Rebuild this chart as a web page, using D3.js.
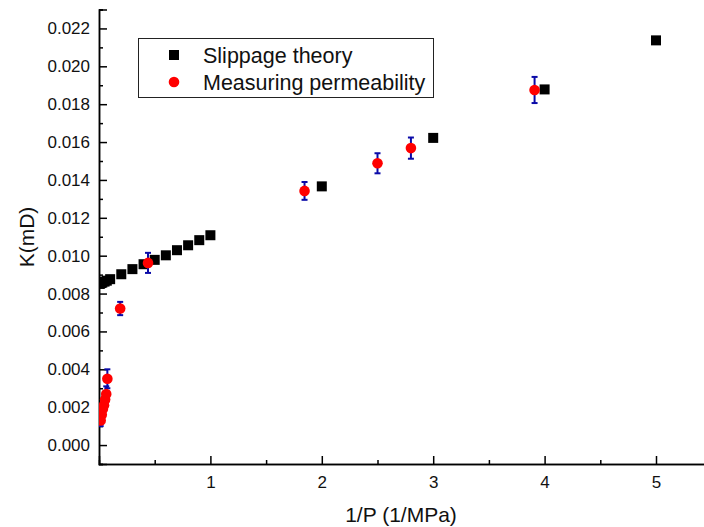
<!DOCTYPE html>
<html><head><meta charset="utf-8">
<script src="https://cdn.jsdelivr.net/npm/d3@7"></script>
<style>body{margin:0;background:#fff}svg{display:block}text{font-family:Arial,"Liberation Sans",sans-serif}</style>
</head><body><svg id="c" width="704" height="527"></svg>
<script>
// Slippage theory (black squares)
const slipX = [0.005,0.01,0.02,0.03,0.05,0.07,0.1,0.2,0.3,0.4,0.5,0.6,0.7,0.8,0.9,1,2,3,4,5];
const slipK = [0.00851,0.00853,0.00856,0.00858,0.00863,0.00868,0.00876,0.00902,0.00929,0.00955,0.00978,0.01002,0.01029,0.01055,0.01082,0.01108,0.01366,0.01622,0.01878,0.02137];
// Measuring permeability (red circles, blue error bars)
const measX = [0.015,0.025,0.035,0.045,0.055,0.065,0.075,0.19,0.44,1.845,2.5,2.8,3.91];
const measK = [0.0013,0.0016,0.0019,0.0021,0.0024,0.0027,0.0035,0.00721,0.00962,0.01342,0.01488,0.01568,0.01875];
const measErr = [0.0003,0.0003,0.0003,0.0003,0.0004,0.0004,0.0005,0.00035,0.00053,0.00047,0.00053,0.00056,0.00069];
const xTicks = [1,2,3,4,5];
const xMinor = [0.5,1.5,2.5,3.5,4.5,5.5];
const yTicks = [0,0.002,0.004,0.006,0.008,0.010,0.012,0.014,0.016,0.018,0.020,0.022];
const yMinor = [-0.001,0.001,0.003,0.005,0.007,0.009,0.011,0.013,0.015,0.017,0.019,0.021,0.023];
const seriesNames = ["Slippage theory","Measuring permeability"];

const svg = d3.select("#c");
const x = d3.scaleLinear().domain([0,5.5]).range([99,99+5.5*111.4]);
const y = d3.scaleLinear().domain([-0.001,0.023]).range([464,9.5]);

svg.append("defs").append("clipPath").attr("id","clip").append("rect")
  .attr("x",99).attr("y",0).attr("width",610).attr("height",464);

// axes
const gx = svg.append("g").attr("transform","translate(0,464)");
gx.call(d3.axisBottom(x).tickValues(xTicks).tickSize(-8).tickPadding(12).tickFormat(d3.format("d")));
gx.append("g").call(d3.axisBottom(x).tickValues(xMinor).tickSize(-4).tickFormat(""));
const gy = svg.append("g").attr("transform","translate(99,0)");
gy.call(d3.axisLeft(y).tickValues(yTicks).tickSize(-8).tickPadding(9).tickFormat(d3.format(".3f")));
gy.append("g").call(d3.axisLeft(y).tickValues(yMinor).tickSize(-4).tickFormat(""));
svg.selectAll(".domain").attr("stroke","#000").attr("stroke-width",1.5);
svg.selectAll(".tick line").attr("stroke","#000").attr("stroke-width",1.5);
svg.selectAll(".tick text").attr("font-size",17).attr("fill","#111")
  .style("font-family",'Arial,"Liberation Sans",sans-serif');

// axis titles
svg.append("text").attr("x",401).attr("y",522).attr("text-anchor","middle")
  .attr("font-size",21).attr("fill","#111").text("1/P (1/MPa)");
svg.append("text").attr("transform","translate(34,237) rotate(-90)").attr("text-anchor","middle")
  .attr("font-size",21).attr("fill","#111").text("K(mD)");

const plot = svg.append("g").attr("clip-path","url(#clip)");
// squares
plot.selectAll("rect.sq").data(slipX).join("rect").attr("class","sq")
  .attr("x",(d,i)=>x(d)-5).attr("y",(d,i)=>y(slipK[i])-5)
  .attr("width",10).attr("height",10).attr("fill","#000");

// error bars
const eb = plot.selectAll("g.eb").data(measX).join("g").attr("class","eb")
  .attr("stroke","#0a0aa8").attr("stroke-width",2);
eb.append("line").attr("x1",d=>x(d)).attr("x2",d=>x(d))
  .attr("y1",(d,i)=>y(measK[i]-measErr[i])).attr("y2",(d,i)=>y(measK[i]+measErr[i]));
eb.append("line").attr("x1",d=>x(d)-3).attr("x2",d=>x(d)+3)
  .attr("y1",(d,i)=>y(measK[i]-measErr[i])).attr("y2",(d,i)=>y(measK[i]-measErr[i]));
eb.append("line").attr("x1",d=>x(d)-3).attr("x2",d=>x(d)+3)
  .attr("y1",(d,i)=>y(measK[i]+measErr[i])).attr("y2",(d,i)=>y(measK[i]+measErr[i]));
// circles
plot.selectAll("circle.pt").data(measX).join("circle").attr("class","pt")
  .attr("cx",d=>x(d)).attr("cy",(d,i)=>y(measK[i])).attr("r",5.3).attr("fill","#ff0000");

// legend
const lg = svg.append("g");
lg.append("rect").attr("x",138.5).attr("y",38.5).attr("width",295).attr("height",59)
  .attr("fill","#fff").attr("stroke","#222").attr("stroke-width",1);
lg.append("rect").attr("x",169).attr("y",50).attr("width",10).attr("height",10).attr("fill","#000");
lg.append("circle").attr("cx",174).attr("cy",82).attr("r",5.3).attr("fill","#ff0000");
lg.selectAll("text.lt").data(seriesNames).join("text").attr("class","lt")
  .attr("x",203).attr("y",(d,i)=>63+i*27).attr("font-size",21.5).attr("fill","#111").text(d=>d);
</script></body></html>
